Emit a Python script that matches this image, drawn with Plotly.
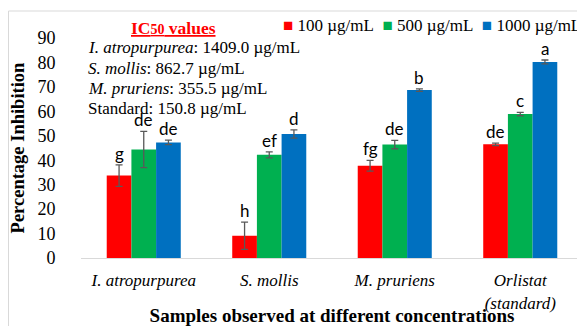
import plotly.graph_objects as go

categories = ["I. atropurpurea", "S. mollis", "M. pruriens", "Orlistat (standard)"]
tick_labels = ["<i>I. atropurpurea</i>", "<i>S. mollis</i>", "<i>M. pruriens</i>", "<i>Orlistat</i><br><i>(standard)</i>"]
series_names = ["100 µg/mL", "500 µg/mL", "1000 µg/mL"]
colors = ["#FF0000", "#00B050", "#0070C0"]

vals_100 = [33.7, 9.1, 37.7, 46.5]
vals_500 = [44.4, 42.2, 46.4, 58.9]
vals_1000 = [47.3, 50.7, 68.7, 80.2]

err_100 = [4.4, 5.6, 2.2, 0.5]
err_500 = [7.4, 1.2, 1.7, 0.7]
err_1000 = [0.9, 1.7, 0.5, 0.8]

letters_100 = ["g", "h", "fg", "de"]
letters_500 = ["de", "ef", "de", "c"]
letters_1000 = ["de", "d", "b", "a"]

ic50_lines = [
    "<i>I. atropurpurea</i>: 1409.0 µg/mL",
    "<i>S. mollis</i>: 862.7 µg/mL",
    "<i>M. pruriens</i>: 355.5 µg/mL",
    "Standard: 150.8 µg/mL",
]

serif = "Liberation Serif, Times New Roman, serif"

# the page body adds an 8px offset; size the figure to fit the window
OFF = 8
W, H = 585 - OFF, 326 - OFF
# plot area in screenshot pixels: x 81..583, y 38..258
L, R, T, B = 81 - OFF, W - (583 - OFF), 38 - OFF, H - (258 - OFF)
PW, PH = W - L - R, H - T - B


def px_x(p):
    return (p - OFF - L) / PW


def px_y(p):
    return (H - B - (p - OFF)) / PH


fig = go.Figure()
all_vals = [vals_100, vals_500, vals_1000]
all_errs = [err_100, err_500, err_1000]
all_letters = [letters_100, letters_500, letters_1000]
for name, col, v, e in zip(series_names, colors, all_vals, all_errs):
    fig.add_trace(go.Bar(
        x=categories, y=v, name=name, marker_color=col,
        marker_line_width=0, showlegend=False,
        error_y=dict(type="data", array=e, visible=True, color="#595959", thickness=1.3, width=3.5),
    ))

# letter labels above error bars
n = len(series_names)
bargap = 0.41
group_w = 1 - bargap
bw = group_w / n
for si, (v, e, lt) in enumerate(zip(all_vals, all_errs, all_letters)):
    for ci in range(len(categories)):
        xpos = ci - group_w / 2 + bw * (si + 0.5)
        fig.add_annotation(
            x=xpos, xref="x", y=v[ci] + e[ci], yref="y",
            text=lt[ci], showarrow=False, yanchor="bottom", yshift=-1,
            font=dict(family="Lato, Carlito, sans-serif", size=17, color="#000000"),
        )

# legend row (coloured squares + labels)
legend_text = "&nbsp;&nbsp;".join(
    f"<span style='color:{c}'>■</span>&nbsp;{nm}" for nm, c in zip(series_names, colors)
)
fig.add_annotation(
    x=1.0, y=px_y(25), xref="paper", yref="paper", showarrow=False,
    xanchor="right", yanchor="middle", text=legend_text,
    font=dict(family=serif, size=17, color="#000000"),
)

# IC50 text block
fig.add_annotation(
    x=px_x(173), y=px_y(28), xref="paper", yref="paper", showarrow=False,
    xanchor="center", yanchor="middle",
    text="<b><u>IC<span style='font-size:14px'>50</span> values</u></b>",
    font=dict(family=serif, size=17.5, color="#FF0000"),
)
for i, line in enumerate(ic50_lines):
    fig.add_annotation(
        x=px_x(86), y=px_y(48 + 20 * i), xref="paper", yref="paper",
        showarrow=False, xanchor="left", yanchor="middle",
        text=line, font=dict(family=serif, size=17, color="#000000"),
    )

fig.update_layout(
    width=W, height=H,
    margin=dict(l=L, r=R, t=T, b=B, autoexpand=False),
    paper_bgcolor="white", plot_bgcolor="white",
    barmode="group", bargap=bargap, bargroupgap=0,
    showlegend=False,
    xaxis=dict(type="category", categoryorder="array", categoryarray=categories,
               tickmode="array", tickvals=categories, ticktext=tick_labels,
               automargin=False,
               showgrid=False, showline=True, linecolor="#D9D9D9", linewidth=1,
               tickfont=dict(family=serif, size=17, color="#000000"),
               ticks="outside", ticklen=7, tickcolor="rgba(0,0,0,0)",
               title=dict(text="<b>Samples observed at different concentrations</b>",
                          font=dict(family=serif, size=19, color="#000000"), standoff=1)),
    yaxis=dict(range=[0, 90], dtick=10, showgrid=False, showline=False, zeroline=False,
               automargin=False,
               tickfont=dict(family=serif, size=18, color="#000000"),
               ticks="outside", ticklen=21, tickcolor="rgba(0,0,0,0)",
               title=dict(text="<b>Percentage Inhibition</b>",
                          font=dict(family=serif, size=18.5, color="#000000"), standoff=8)),
)

# chart border
fig.add_shape(type="rect", xref="paper", yref="paper",
              x0=px_x(8.5), x1=px_x(584), y0=px_y(330), y1=px_y(11),
              line=dict(color="#D9D9D9", width=1), fillcolor="rgba(0,0,0,0)")

fig.write_html("out.html")
